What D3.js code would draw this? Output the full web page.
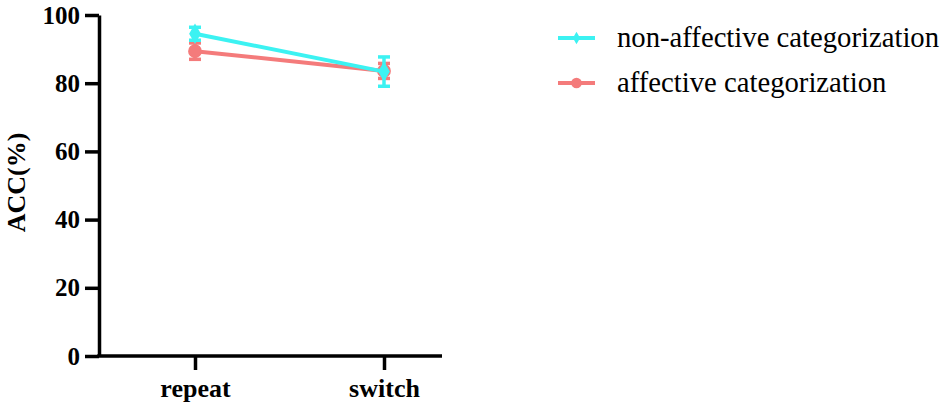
<!DOCTYPE html>
<html>
<head>
<meta charset="utf-8">
<script src="https://cdn.jsdelivr.net/npm/d3@7"></script>
</head>
<body style="margin:0">
<svg id="chart" width="946" height="410"></svg>
<script>
// categories and values
const conditions = ['repeat', 'switch']
const seriesNames = ['non-affective categorization', 'affective categorization']
const nonAffectiveMean = [94.5, 83.4]
const nonAffectiveErr = [1.9, 4.3]
const affectiveMean = [89.4, 83.6]
const affectiveErr = [2.4, 2.2]
const yTicks = [0, 20, 40, 60, 80, 100]
const colors = ['#3cf2f2', '#f47b7b']

const fam = 'Liberation Serif'
const FONT = `'${fam}', Tinos, 'Times New Roman', serif`

const svg = d3.select('#chart').attr('font-family', FONT)
const margin = { top: 15, left: 99, bottom: 54 }
const plotH = 410 - margin.top - margin.bottom

// scales
const x = d3.scalePoint().domain(conditions).range([96, 285]).padding(0)
const y = d3.scaleLinear().domain([0, 100]).range([plotH, 0])

const g = svg.append('g').attr('transform', `translate(${margin.left},${margin.top})`)

const styleAxis = (sel, size) => {
  sel.attr('font-family', null).attr('font-size', null)
  sel.selectAll('path, line').attr('stroke', '#000').attr('stroke-width', 3.5)
  sel.selectAll('text')
    .style('font-family', FONT)
    .style('font-weight', 'bold')
    .style('font-size', size)
    .attr('fill', '#000')
}

// y axis
const yAxisG = g.append('g')
  .call(d3.axisLeft(y).tickValues(yTicks).tickSize(14).tickSizeOuter(0).tickPadding(5))
styleAxis(yAxisG, '25px')

// x axis (line from the y axis out to the right)
const xAxisG = g.append('g')
  .attr('transform', `translate(0,${plotH})`)
  .call(d3.axisBottom(x).tickSize(14).tickSizeOuter(0).tickPadding(9))
xAxisG.select('.domain').attr('d', 'M-1.75,0H343')
styleAxis(xAxisG, '26px')

// y axis title
svg.append('text')
  .attr('transform', `translate(25,${margin.top + y(50) - 3}) rotate(-90)`)
  .attr('text-anchor', 'middle')
  .style('font-family', FONT)
  .style('font-weight', 'bold')
  .style('font-size', '26px')
  .text('ACC(%)')

// series, drawn affective first so non-affective sits on top
const series = [
  { name: seriesNames[1], mean: affectiveMean, err: affectiveErr, color: colors[1], symbol: 'circle' },
  { name: seriesNames[0], mean: nonAffectiveMean, err: nonAffectiveErr, color: colors[0], symbol: 'diamond' }
]

const line = d3.line().x((d) => x(d.c)).y((d) => y(d.v))

series.forEach((s) => {
  const pts = conditions.map((c, i) => ({ c, v: s.mean[i], e: s.err[i] }))
  const sg = g.append('g')

  sg.append('path')
    .datum(pts)
    .attr('d', line)
    .attr('fill', 'none')
    .attr('stroke', s.color)
    .attr('stroke-width', 4)

  // error bars
  pts.forEach((p) => {
    const cx = x(p.c)
    sg.append('line')
      .attr('x1', cx).attr('x2', cx)
      .attr('y1', y(p.v + p.e)).attr('y2', y(p.v - p.e))
      .attr('stroke', s.color).attr('stroke-width', 3.5)
    ;[p.v + p.e, p.v - p.e].forEach((v) => {
      sg.append('line')
        .attr('x1', cx - 6).attr('x2', cx + 6)
        .attr('y1', y(v)).attr('y2', y(v))
        .attr('stroke', s.color).attr('stroke-width', 3.5)
    })
  })

  sg.selectAll('.marker')
    .data(pts)
    .enter()
    .append('path')
    .attr('d', d3.symbol().type(s.symbol === 'circle' ? d3.symbolCircle : d3.symbolDiamond).size(s.symbol === 'circle' ? 150 : 120))
    .attr('transform', (d) => `translate(${x(d.c)},${y(d.v)})`)
    .attr('fill', s.color)
})

// legend
const legend = svg.append('g').attr('transform', 'translate(558,38)')
const legendItems = [
  { name: seriesNames[0], color: colors[0], symbol: d3.symbolDiamond, size: 45 },
  { name: seriesNames[1], color: colors[1], symbol: d3.symbolCircle, size: 90 }
]
legendItems.forEach((d, i) => {
  const lg = legend.append('g').attr('transform', `translate(0,${i * 45})`)
  lg.append('line')
    .attr('x1', 0).attr('x2', 37)
    .attr('stroke', d.color).attr('stroke-width', 4)
  lg.append('path')
    .attr('d', d3.symbol().type(d.symbol).size(d.size))
    .attr('transform', 'translate(18.5,0)')
    .attr('fill', d.color)
  lg.append('text')
    .attr('x', 59)
    .attr('dy', '0.33em')
    .style('font-family', FONT)
    .style('font-size', '28.7px')
    .text(d.name)
})
</script>
</body>
</html>
